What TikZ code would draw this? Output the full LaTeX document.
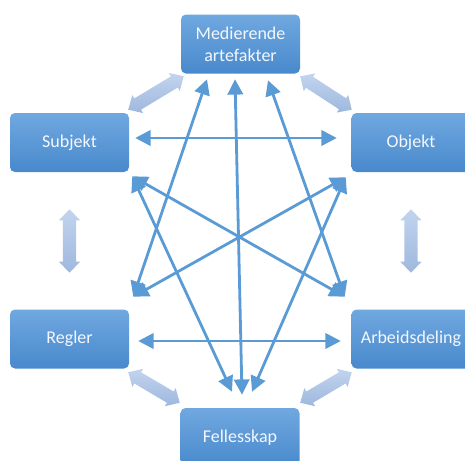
\documentclass[tikz,border=0pt]{standalone}
\usepackage{fontspec}
\setmainfont{Carlito}
\usetikzlibrary{calc,arrows.meta}

\definecolor{boxtop}{RGB}{112,168,224}
\definecolor{boxbot}{RGB}{72,137,204}
\definecolor{linkblue}{RGB}{91,155,213}
\definecolor{bandtop}{RGB}{194,212,238}
\definecolor{bandbot}{RGB}{158,184,222}
\definecolor{labelwhite}{RGB}{244,247,252}

\tikzset{
  stage/.style={rectangle, rounded corners=3.75pt, minimum width=89.25pt,
    minimum height=44.25pt, top color=boxtop, bottom color=boxbot, draw=none,
    text=labelwhite, font=\fontsize{13.5}{16.5}\selectfont, align=center, inner sep=0pt},
  link/.style={draw=linkblue, line width=2.1pt,
    {Triangle[length=11.5pt,width=11.5pt]}-{Triangle[length=11.5pt,width=11.5pt]}},
  band/.style={top color=bandtop, bottom color=bandbot, draw=none},
}

% broad two-headed arrow between two named points
\newcommand\bandarrow[2]{%
  \coordinate (bh1) at ($(#1)!8.25pt!(#2)$);
  \coordinate (bh2) at ($(#2)!8.25pt!(#1)$);
  \shade[band] (#1) -- ($(bh1)!7.9pt!90:(#1)$) -- ($(bh1)!4.9pt!90:(#1)$)
    -- ($(bh2)!4.9pt!-90:(#2)$) -- ($(bh2)!7.9pt!-90:(#2)$) -- (#2)
    -- ($(bh2)!7.9pt!90:(#2)$) -- ($(bh2)!4.9pt!90:(#2)$)
    -- ($(bh1)!4.9pt!-90:(#1)$) -- ($(bh1)!7.9pt!-90:(#1)$) -- cycle;
}

\begin{document}
\begin{tikzpicture}[x=0.75pt,y=-0.75pt]
\useasboundingbox (0,0) rectangle (465,461);
\clip (0,0) rectangle (465,461);

% the six elements of the activity system
\node[stage] (med) at (240.5,44) {Medierende\\artefakter};
\node[stage] (sub) at (69.5,142.5) {Subjekt};
\node[stage] (obj) at (411,142.5) {Objekt};
\node[stage] (reg) at (69.5,339) {Regler};
\node[stage] (arb) at (411,339) {Arbeidsdeling};
\node[stage] (fel) at (240,437.5) {Fellesskap};

% ends of the thin connectors
\coordinate (m1) at ($(med.south)+(-33.5,5.5)$);
\coordinate (m2) at ($(med.south)+(-5.5,5.5)$);
\coordinate (m3) at ($(med.south)+(27.5,6.5)$);
\coordinate (sx) at ($(sub.south east)+(3,4)$);
\coordinate (ox) at ($(obj.south west)+(-5.5,5)$);
\coordinate (rx) at ($(reg.north east)+(4,-12.5)$);
\coordinate (ax) at ($(arb.north west)+(-6.5,-12.5)$);
\coordinate (f1) at ($(fel.north)+(-8,-16)$);
\coordinate (f2) at ($(fel.north)+(2,-13)$);
\coordinate (f3) at ($(fel.north)+(12,-16)$);
\coordinate (sl) at ($(sub.east)+(6,-4.5)$);
\coordinate (or) at ($(obj.west)+(-14.5,-4.5)$);
\coordinate (rl) at ($(reg.east)+(9,2)$);
\coordinate (ar) at ($(arb.west)+(-10.5,2)$);

\draw[link] (sl) -- (or);
\draw[link] (rl) -- (ar);
\draw[link] (m1) -- (rx);
\draw[link] (m2) -- (f2);
\draw[link] (m3) -- (ax);
\draw[link] (sx) -- (f1);
\draw[link] (ox) -- (f3);
\draw[link] (sx) -- (ax);
\draw[link] (ox) -- (rx);

% ends of the broad arrows around the hexagon
\coordinate (b1a) at ($(sub.north east)+(-1,-3)$);
\coordinate (b1b) at ($(med.south west)+(3,2.5)$);
\coordinate (b2a) at ($(med.south east)+(0,2.5)$);
\coordinate (b2b) at ($(obj.north west)+(0.5,-3)$);
\coordinate (b3a) at ($(sub.south)+(0,37)$);
\coordinate (b3b) at ($(reg.north)+(0,-36.5)$);
\coordinate (b4a) at ($(obj.south)+(0,37)$);
\coordinate (b4b) at ($(arb.north)+(0,-36.5)$);
\coordinate (b5a) at ($(reg.south east)+(-1,3.5)$);
\coordinate (b5b) at ($(fel.north west)+(-0.5,-5)$);
\coordinate (b6a) at ($(arb.south west)+(0.5,3.5)$);
\coordinate (b6b) at ($(fel.north east)+(0.5,-5)$);

\bandarrow{b1a}{b1b}
\bandarrow{b2a}{b2b}
\bandarrow{b3a}{b3b}
\bandarrow{b4a}{b4b}
\bandarrow{b5a}{b5b}
\bandarrow{b6a}{b6b}
\end{tikzpicture}
\end{document}
